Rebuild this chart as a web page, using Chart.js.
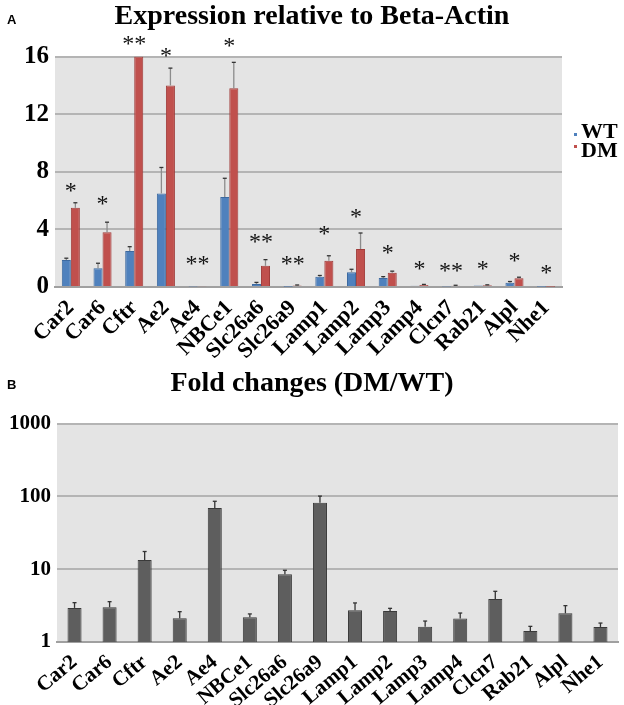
<!DOCTYPE html>
<html>
<head>
<meta charset="utf-8">
<script src="https://cdn.jsdelivr.net/npm/chart.js@4/dist/chart.umd.min.js"></script>
<style>
  html, body { margin: 0; padding: 0; background: #fff; }
  canvas { display: block; }
</style>
</head>
<body>
<canvas id="chart--expr" width="624" height="365"></canvas>
<canvas id="chart--fold" width="624" height="340"></canvas>
<script>
// genes (same order in both panels)
const genes = ['Car2', 'Car6', 'Cftr', 'Ae2', 'Ae4', 'NBCe1', 'Slc26a6', 'Slc26a9',
    'Lamp1', 'Lamp2', 'Lamp3', 'Lamp4', 'Clcn7', 'Rab21', 'Alpl', 'Nhe1'];

// panel A - expression relative to beta-actin
const wtValues = [1.88, 1.3, 2.5, 6.5, 0.03, 6.25, 0.2, 0.02, 0.72, 1.02, 0.62, 0.08, 0.04, 0.1, 0.3, 0.01];
const dmValues = [5.5, 3.8, 16, 14.0, 0.06, 13.8, 1.47, 0.1, 1.83, 2.64, 0.99, 0.14, 0.09, 0.12, 0.6, 0.02];
// top of the error whisker (null = not visible)
const wtUpper = [2.0, 1.65, 2.8, 8.3, null, 7.55, 0.32, null, 0.8, 1.23, 0.72, null, null, null, 0.38, null];
const dmUpper = [5.85, 4.5, null, 15.2, null, 15.6, 1.9, 0.14, 2.17, 3.75, 1.1, 0.18, 0.12, 0.15, 0.68, null];
// significance marks and their height (in axis units)
const starText = ['*', '*', '**', '*', '**', '*', '**', '**', '*', '*', '*', '*', '**', '*', '*', '*'];
const starPos = [6.96, 6.05, 17.2, 16.35, 1.88, 17.0, 3.41, 1.88, 3.97, 5.15, 2.64, 1.53, 1.39, 1.53, 2.09, 1.25];
const exprTicks = [0, 4, 8, 12, 16];

// panel B - fold changes (DM/WT)
const foldValues = [2.94, 3.0, 13.4, 2.12, 69.5, 2.18, 8.5, 82, 2.72, 2.67, 1.62, 2.11, 3.9, 1.42, 2.48, 1.61];
const foldUpper = [3.47, 3.58, 17.5, 2.61, 85.7, 2.43, 9.66, 101, 3.44, 2.9, 1.94, 2.5, 4.97, 1.64, 3.16, 1.82];
const foldTicks = [1, 10, 100, 1000];

const serif = 'Liberation Serif';

// grey plot background
const plotBg = {
    id: 'plotBg',
    beforeDraw(chart) {
        const a = chart.chartArea, ctx = chart.ctx;
        ctx.save();
        ctx.fillStyle = '#e4e4e4';
        ctx.fillRect(a.left, a.top, a.right - a.left, a.bottom - a.top);
        ctx.restore();
    }
};

function panelLetter(letter) {
    return {
        id: 'panelLetter',
        afterDraw(chart) {
            const ctx = chart.ctx;
            ctx.save();
            ctx.font = 'bold 13px "Liberation Sans"';
            ctx.fillStyle = '#000';
            ctx.textBaseline = 'alphabetic';
            ctx.fillText(letter, 7, 24);
            ctx.restore();
        }
    };
}

// upper error whiskers
function errorBars(tops, color) {
    return {
        id: 'errorBars',
        afterDatasetsDraw(chart) {
            const ctx = chart.ctx, y = chart.scales.y;
            tops.forEach((arr, di) => {
                const meta = chart.getDatasetMeta(di);
                meta.data.forEach((bar, i) => {
                    const top = arr[i];
                    if (top == null) return;
                    const yTop = y.getPixelForValue(top);
                    ctx.save();
                    ctx.strokeStyle = color;
                    ctx.lineWidth = 1.3;
                    ctx.beginPath();
                    ctx.moveTo(bar.x, bar.y);
                    ctx.lineTo(bar.x, yTop);
                    ctx.stroke();
                    ctx.strokeStyle = '#333';
                    ctx.beginPath();
                    ctx.moveTo(bar.x - 2, yTop);
                    ctx.lineTo(bar.x + 2, yTop);
                    ctx.stroke();
                    ctx.restore();
                });
            });
        }
    };
}

const stars = {
    id: 'stars',
    afterDatasetsDraw(chart) {
        const ctx = chart.ctx, x = chart.scales.x, y = chart.scales.y;
        ctx.save();
        ctx.font = '24px ' + serif;
        ctx.fillStyle = '#111';
        ctx.textAlign = 'center';
        ctx.textBaseline = 'middle';
        starText.forEach((s, i) => {
            ctx.fillText(s, x.getPixelForValue(i), y.getPixelForValue(starPos[i]) + 5);
        });
        ctx.restore();
    }
};

// small legend at the right of panel A
const sideLegend = {
    id: 'sideLegend',
    afterDraw(chart) {
        const ctx = chart.ctx, a = chart.chartArea;
        ctx.save();
        ctx.font = 'bold 22px ' + serif;
        ctx.textBaseline = 'alphabetic';
        chart.data.datasets.forEach((ds, i) => {
            const yb = 138 + i * 19;
            ctx.fillStyle = ds.backgroundColor;
            ctx.fillRect(a.right + 12, yb - 5 - i * 7, 3, 3);
            ctx.fillStyle = '#000';
            ctx.fillText(ds.label, a.right + 19, yb);
        });
        ctx.restore();
    }
};

const tickFont = (size) => ({ family: serif, weight: 'bold', size: size });

// empty right-hand axis that only reserves room (keeps the title centred on the page)
const spacerAxis = (w) => ({
    position: 'right',
    ticks: { display: false },
    grid: { display: false },
    border: { display: false },
    afterFit: (s) => { s.width = w; }
});

var chartExpr = new Chart(document.getElementById('chart--expr'), {
    type: 'bar',
    data: {
        labels: genes,
        datasets: [{
            label: 'WT',
            data: wtValues,
            backgroundColor: 'rgb(79, 129, 189)',
            borderColor: 'rgb(60, 105, 160)',
            borderWidth: 1,
            categoryPercentage: 0.57,
            barPercentage: 1.0
        }, {
            label: 'DM',
            data: dmValues,
            backgroundColor: 'rgb(192, 80, 77)',
            borderColor: 'rgb(160, 60, 58)',
            borderWidth: 1,
            categoryPercentage: 0.57,
            barPercentage: 1.0
        }]
    },
    options: {
        responsive: false,
        animation: false,
        plugins: {
            legend: { display: false },
            tooltip: { enabled: false },
            title: {
                display: true,
                text: 'Expression relative to Beta-Actin',
                color: '#000',
                font: { family: serif, size: 28, weight: 'bold' },
                padding: { top: 0, bottom: 23 }
            }
        },
        scales: {
            x: {
                grid: { display: false },
                border: { color: '#a0a0a0', width: 2 },
                ticks: { color: '#000', font: tickFont(22), minRotation: 45, maxRotation: 45, padding: 0, autoSkip: false },
                afterFit: (s) => { s.height = 78; }
            },
            y: {
                min: 0,
                max: 16,
                afterBuildTicks: (s) => { s.ticks = exprTicks.map(v => ({ value: v })); },
                grid: { color: '#b4b4b4', lineWidth: 2, drawTicks: false },
                border: { display: false },
                ticks: { color: '#000', font: tickFont(25), padding: 6 },
                afterFit: (s) => { s.width = 55; }
            },
            spacer: spacerAxis(62)
        }
    },
    plugins: [plotBg, errorBars([wtUpper, dmUpper], '#8c8c8c'), stars, sideLegend, panelLetter('A')]
});

var chartFold = new Chart(document.getElementById('chart--fold'), {
    type: 'bar',
    data: {
        labels: genes,
        datasets: [{
            label: 'DM/WT',
            data: foldValues,
            backgroundColor: '#5e5e5e',
            borderColor: '#3a3a3a',
            borderWidth: 1,
            categoryPercentage: 0.4,
            barPercentage: 1.0
        }]
    },
    options: {
        responsive: false,
        animation: false,
        plugins: {
            legend: { display: false },
            tooltip: { enabled: false },
            title: {
                display: true,
                text: 'Fold changes (DM/WT)',
                color: '#000',
                font: { family: serif, size: 28, weight: 'bold' },
                padding: { top: 2, bottom: 23 }
            }
        },
        scales: {
            x: {
                grid: { display: false },
                border: { color: '#a0a0a0', width: 2 },
                ticks: { color: '#000', font: tickFont(21), minRotation: 40, maxRotation: 40, padding: 0, autoSkip: false },
                afterFit: (s) => { s.height = 63; }
            },
            y: {
                type: 'logarithmic',
                min: 1,
                max: 1000,
                afterBuildTicks: (s) => { s.ticks = foldTicks.map(v => ({ value: v })); },
                grid: { color: '#b4b4b4', lineWidth: 2, drawTicks: false },
                border: { display: false },
                ticks: { color: '#000', font: tickFont(21), padding: 6, callback: (v) => String(v) },
                afterFit: (s) => { s.width = 57; }
            },
            spacer: spacerAxis(6)
        }
    },
    plugins: [plotBg, errorBars([foldUpper], '#333'), panelLetter('B')]
});
</script>
</body>
</html>
